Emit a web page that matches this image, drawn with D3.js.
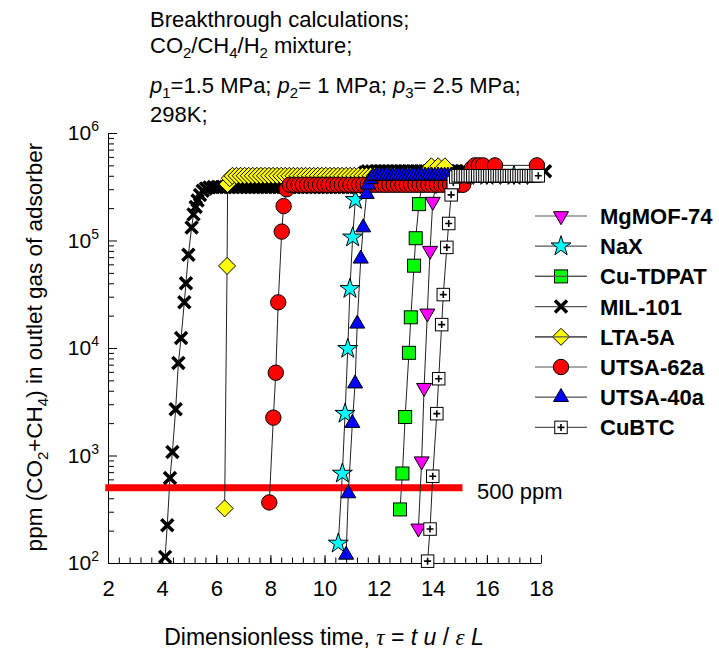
<!DOCTYPE html>
<html>
<head>
<meta charset="utf-8">
<script src="https://cdn.jsdelivr.net/npm/d3@7"></script>
<style>
  body { margin: 0; background: #fff; }
  svg { font-family: "Liberation Sans", Arial, sans-serif; }
</style>
</head>
<body>
<svg id="chart" width="719" height="650"></svg>
<script>
"use strict";

// axis setup
var xTicks = [2, 4, 6, 8, 10, 12, 14, 16, 18];
var yDecades = [2, 3, 4, 5, 6];
var thresholdPpm = 500;
var thresholdSpan = [1.9, 15.1];
var thresholdLabel = "500 ppm";

// [tau, ppm of CO2+CH4 in outlet gas]
var mgmof74 = [
    [13.47, 210], [13.59, 885], [13.68, 4270], [13.80, 21000], [13.90, 80400], [14.00, 230000],
    [14.12, 330000], [14.30, 380000], [14.60, 400000], [15.00, 400000], [15.50, 400000],
    [16.00, 400000], [16.50, 400000], [17.00, 400000], [17.50, 400000]
];
var nax = [
    [10.51, 152], [10.66, 680], [10.76, 2450], [10.86, 9840], [10.94, 35500], [11.04, 107000],
    [11.14, 239000], [11.25, 330000], [11.60, 350000], [12.20, 350000], [12.80, 350000],
    [13.40, 350000], [14.00, 350000], [14.60, 380000], [15.20, 400000], [16.00, 400000], [17.00, 400000]
];
var cuTdpat = [
    [12.79, 315], [12.88, 680], [12.98, 2280], [13.12, 9020], [13.19, 19300], [13.31, 58300],
    [13.37, 105000], [13.49, 218000], [13.60, 330000], [13.90, 370000], [14.40, 400000],
    [15.00, 400000], [15.60, 400000], [16.20, 400000], [16.80, 400000], [17.40, 400000]
];
var mil101 = [
    [4.11, 114], [4.19, 225], [4.29, 617], [4.38, 1080], [4.50, 2690], [4.60, 7240], [4.70, 12400],
    [4.82, 26600], [4.88, 40000], [4.97, 73800], [5.09, 132000], [5.16, 175000], [5.24, 205000],
    [5.31, 235000], [5.40, 265000], [5.50, 290000], [5.62, 305000], [5.75, 312000],
    [5.90, 315000], [6.05, 315000], [6.20, 315000], [6.35, 315000], [6.50, 315000], [6.65, 315000],
    [6.80, 315000], [6.95, 315000], [7.10, 315000], [7.25, 315000], [7.40, 315000], [7.55, 315000],
    [7.70, 315000], [7.85, 315000], [8.00, 315000], [8.15, 315000], [8.30, 315000], [8.45, 315000],
    [8.60, 315000], [8.75, 315000], [8.90, 315000], [9.05, 315000], [9.20, 315000], [9.35, 315000],
    [9.50, 315000], [9.65, 315000], [9.80, 315000], [9.95, 315000], [10.10, 315000], [10.25, 315000],
    [10.40, 315000], [10.55, 315000], [10.70, 315000], [10.85, 315000], [11.00, 315000], [11.15, 315000],
    [11.30, 315000], [11.40, 380000], [11.50, 430000],
    [11.60, 440000], [11.75, 440000], [11.90, 440000], [12.05, 440000], [12.20, 440000], [12.35, 440000],
    [12.50, 440000], [12.65, 440000], [12.80, 440000], [12.95, 440000], [13.10, 440000], [13.25, 440000],
    [13.40, 440000], [13.55, 440000], [13.70, 440000], [13.85, 440000], [14.00, 440000], [14.15, 440000],
    [14.30, 440000], [14.45, 440000], [14.60, 440000], [14.75, 440000], [14.90, 440000], [15.05, 440000],
    [15.20, 440000], [15.60, 440000], [18.15, 440000]
];
var lta5a = [
    [6.31, 322], [6.40, 58000], [6.42, 335000], [6.50, 380000], [6.60, 400000],
    [6.75, 400000], [6.90, 400000], [7.05, 400000], [7.20, 400000], [7.35, 400000], [7.50, 400000],
    [7.65, 400000], [7.80, 400000], [7.95, 400000], [8.10, 400000], [8.25, 400000], [8.40, 400000],
    [8.55, 400000], [8.70, 400000], [8.85, 400000], [9.00, 400000], [9.15, 400000], [9.30, 400000],
    [9.45, 400000], [9.60, 400000], [9.75, 400000], [9.90, 400000], [10.05, 400000], [10.20, 400000],
    [10.35, 400000], [10.50, 400000], [10.65, 400000], [10.80, 400000], [10.95, 400000], [11.10, 400000],
    [11.25, 400000], [11.40, 400000], [11.55, 400000], [11.70, 400000], [11.85, 400000], [12.00, 400000],
    [12.15, 400000], [12.30, 400000], [12.45, 400000], [12.60, 400000], [12.75, 400000], [12.90, 400000],
    [13.05, 400000], [13.20, 400000], [13.35, 400000], [13.50, 400000], [13.65, 400000],
    [13.80, 450000], [13.95, 490000], [14.20, 490000], [14.45, 490000]
];
var utsa62a = [
    [7.96, 366], [8.11, 2250], [8.20, 5890], [8.29, 26600], [8.42, 121000], [8.49, 209000],
    [8.60, 300000], [8.72, 330000],
    [8.88, 330000], [9.04, 330000], [9.20, 330000], [9.36, 330000], [9.52, 330000], [9.68, 330000],
    [9.84, 330000], [10.00, 330000], [10.16, 330000], [10.32, 330000], [10.48, 330000], [10.64, 330000],
    [10.80, 330000], [10.96, 330000], [11.12, 330000], [11.28, 330000], [11.44, 330000], [11.60, 330000],
    [11.76, 330000], [11.92, 330000], [12.08, 330000], [12.24, 330000], [12.40, 330000], [12.56, 330000],
    [12.72, 330000], [12.88, 330000], [13.04, 330000], [13.20, 330000], [13.36, 330000], [13.52, 330000],
    [13.68, 330000], [13.84, 330000], [14.00, 330000], [14.16, 330000], [14.32, 330000], [14.48, 330000],
    [14.64, 330000], [14.80, 330000], [14.96, 330000], [15.12, 330000],
    [15.30, 400000], [15.45, 470000], [15.56, 500000], [15.70, 500000], [15.86, 500000],
    [16.30, 500000], [17.85, 500000]
];
var utsa40a = [
    [10.80, 119], [10.88, 443], [11.03, 2000], [11.13, 4660], [11.21, 16800], [11.34, 67600],
    [11.43, 132000], [11.56, 270000], [11.62, 330000], [11.70, 370000], [11.80, 395000],
    [11.92, 400000], [12.04, 400000], [12.16, 400000], [12.28, 400000], [12.40, 400000], [12.52, 400000],
    [12.64, 400000], [12.76, 400000], [12.88, 400000], [13.00, 400000], [13.12, 400000], [13.24, 400000],
    [13.36, 400000], [13.48, 400000], [13.60, 400000], [13.72, 400000], [13.84, 400000], [13.96, 400000],
    [14.08, 400000], [14.20, 400000], [14.32, 400000], [14.44, 400000], [14.56, 400000], [14.68, 400000]
];
var cubtc = [
    [13.81, 104], [13.90, 207], [14.00, 641], [14.15, 2450], [14.22, 5180], [14.33, 16500],
    [14.39, 31400], [14.52, 86300], [14.59, 144000], [14.68, 266000], [14.76, 346000], [14.85, 390000],
    [14.94, 400000], [15.03, 400000], [15.12, 400000], [15.21, 400000], [15.30, 400000], [15.39, 400000],
    [15.48, 400000], [15.57, 400000], [15.66, 400000], [15.75, 400000], [15.84, 400000], [15.93, 400000],
    [16.02, 400000], [16.11, 400000], [16.20, 400000], [16.29, 400000], [16.38, 400000], [16.47, 400000],
    [16.56, 400000], [16.65, 400000], [16.74, 400000], [16.83, 400000], [16.92, 400000], [17.01, 400000],
    [17.10, 400000], [17.19, 400000], [17.28, 400000], [17.37, 400000], [17.46, 400000], [17.55, 400000],
    [17.64, 400000], [17.73, 400000], [17.82, 400000], [17.90, 400000]
];

// legend order == drawing order (last one ends up on top)
var series = [
    { name: "MgMOF-74", data: mgmof74, symbol: "triDown", fill: "#ff00ff" },
    { name: "NaX", data: nax, symbol: "star", fill: "#00ffff" },
    { name: "Cu-TDPAT", data: cuTdpat, symbol: "square", fill: "#00ff00" },
    { name: "MIL-101", data: mil101, symbol: "cross", fill: "#000" },
    { name: "LTA-5A", data: lta5a, symbol: "diamond", fill: "#ffff00" },
    { name: "UTSA-62a", data: utsa62a, symbol: "circle", fill: "#ff0000" },
    { name: "UTSA-40a", data: utsa40a, symbol: "triUp", fill: "#0000ff" },
    { name: "CuBTC", data: cubtc, symbol: "boxPlus", fill: "#fff" }
];

var svg = d3.select("#chart");
var x = d3.scaleLinear().domain([2, 18]).range([108, 541]);
var y = d3.scaleLog().domain([100, 1e6]).range([563, 133]);

function drawMarker(sel, s) {
    switch (s.symbol) {
    case "circle":
        sel.append("circle").attr("r", 7.7).attr("fill", s.fill).attr("stroke", "#000");
        break;
    case "square":
        sel.append("rect").attr("x", -6.5).attr("y", -6.5).attr("width", 13).attr("height", 13)
            .attr("fill", s.fill).attr("stroke", "#000");
        break;
    case "diamond":
        sel.append("path").attr("d", "M0,-8.5L8.5,0L0,8.5L-8.5,0Z").attr("fill", s.fill).attr("stroke", "#000");
        break;
    case "triUp":
        sel.append("path").attr("d", "M0,-8.7L7.5,4.3L-7.5,4.3Z").attr("fill", s.fill).attr("stroke", "#000");
        break;
    case "triDown":
        sel.append("path").attr("d", "M0,8.7L7.5,-4.3L-7.5,-4.3Z").attr("fill", s.fill).attr("stroke", "#000");
        break;
    case "star":
        sel.append("path").attr("d", d3.symbol(d3.symbolStar, 124)()).attr("fill", s.fill).attr("stroke", "#000");
        break;
    case "cross":
        sel.append("path").attr("d", "M-6,-6L6,6M-6,6L6,-6").attr("stroke", "#000").attr("stroke-width", 3.5);
        break;
    case "boxPlus":
        sel.append("rect").attr("x", -6.25).attr("y", -6.25).attr("width", 12.5).attr("height", 12.5)
            .attr("fill", "#fff").attr("stroke", "#000");
        sel.append("path").attr("d", "M-3.5,0H3.5M0,-3.5V3.5").attr("stroke", "#000").attr("stroke-width", 1.6);
        break;
    default: break;
    }
}

// axes: inward ticks, bottom + left only
var xAxisG = svg.append("g").attr("transform", "translate(0,563)");
xAxisG.call(d3.axisBottom(x).tickValues(d3.range(2, 18.01, 0.4)).tickSizeInner(-5.5).tickSizeOuter(0).tickFormat(""));
xAxisG.append("g").call(d3.axisBottom(x).tickValues(xTicks).tickSizeInner(-8).tickSizeOuter(0).tickPadding(17))
    .call(function (g) { g.select(".domain").remove(); });
xAxisG.selectAll("text").attr("font-size", 22).attr("fill", "#000").attr("font-family", "Liberation Sans, Arial, sans-serif");

var yMinor = [];
yDecades.forEach(function (e) {
    if (e < 6) {
        for (var k = 2; k <= 9; k++) { yMinor.push(k * Math.pow(10, e)); }
    }
});
var yAxisG = svg.append("g").attr("transform", "translate(108,0)");
yAxisG.call(d3.axisLeft(y).tickValues(yMinor).tickSizeInner(-6).tickSizeOuter(0).tickFormat(""));
yAxisG.append("g").call(d3.axisLeft(y).tickValues(yDecades.map(function (e) { return Math.pow(10, e); }))
    .tickSizeInner(-9).tickSizeOuter(0).tickFormat(""))
    .call(function (g) { g.select(".domain").remove(); });
svg.selectAll(".domain, .tick line").attr("stroke", "#000");

var yLab = svg.append("g").attr("font-size", 21).attr("fill", "#000");
yDecades.forEach(function (e) {
    var t = yLab.append("text").attr("x", 99).attr("y", y(Math.pow(10, e)) + 7).attr("text-anchor", "end");
    t.append("tspan").text("10");
    t.append("tspan").attr("font-size", 14).attr("dy", -9).text(e);
});

// 500 ppm threshold
svg.append("line")
    .attr("x1", x(thresholdSpan[0])).attr("x2", x(thresholdSpan[1]))
    .attr("y1", y(thresholdPpm)).attr("y2", y(thresholdPpm))
    .attr("stroke", "#ff0000").attr("stroke-width", 7);
svg.append("text").attr("x", 477).attr("y", 499).attr("font-size", 22).text(thresholdLabel);

// curves
var line = d3.line().x(function (d) { return x(d[0]); }).y(function (d) { return y(d[1]); });
series.forEach(function (s) {
    var g = svg.append("g").attr("class", "series");
    g.append("path").datum(s.data).attr("d", line)
        .attr("fill", "none").attr("stroke", "#222").attr("stroke-width", 1);
    g.selectAll("g.mk").data(s.data).join("g").attr("class", "mk")
        .attr("transform", function (d) { return "translate(" + x(d[0]) + "," + y(d[1]) + ")"; })
        .each(function () { drawMarker(d3.select(this), s); });
});

// legend
var legend = svg.append("g");
series.forEach(function (s, i) {
    var ly = 216 + i * 30.2;
    var row = legend.append("g").attr("transform", "translate(0," + ly + ")");
    row.append("line").attr("x1", 535).attr("x2", 587).attr("stroke", "#555").attr("stroke-width", 1.2);
    drawMarker(row.append("g").attr("transform", "translate(561,0)"), s);
    if (s.symbol === "square" || s.symbol === "diamond") {
        row.append("line").attr("x1", 535).attr("x2", 587).attr("stroke", "#555").attr("stroke-width", 1.2);
    }
    row.append("text").attr("x", 600).attr("y", 8).attr("font-size", 22).attr("font-weight", "bold").text(s.name);
});

// annotation block
var note = svg.append("g").attr("font-size", 22).attr("fill", "#000");
note.append("text").attr("x", 150).attr("y", 27).text("Breakthrough calculations;");
var l2 = note.append("text").attr("x", 150).attr("y", 53);
[["CO", 0], ["2", 1], ["/CH", 0], ["4", 1], ["/H", 0], ["2", 1], [" mixture;", 0]].forEach(function (p, i, arr) {
    var ts = l2.append("tspan").text(p[0]);
    if (p[1]) { ts.attr("font-size", 15).attr("dy", 5); }
    else if (i > 0 && arr[i - 1][1]) { ts.attr("dy", -5); }
});
var l3 = note.append("text").attr("x", 150).attr("y", 93);
[["p", 2], ["1", 1], ["=1.5 MPa; ", 0], ["p", 2], ["2", 1], ["= 1 MPa; ", 0], ["p", 2], ["3", 1], ["= 2.5 MPa;", 0]]
    .forEach(function (p, i, arr) {
        var ts = l3.append("tspan").text(p[0]);
        if (p[1] === 1) { ts.attr("font-size", 15).attr("dy", 5); }
        else {
            if (p[1] === 2) { ts.attr("font-style", "italic"); }
            if (i > 0 && arr[i - 1][1] === 1) { ts.attr("dy", -5); }
        }
    });
note.append("text").attr("x", 150).attr("y", 122).text("298K;");

// axis titles
var yTitle = svg.append("text").attr("font-size", 22.5).attr("text-anchor", "middle")
    .attr("transform", "translate(42,347) rotate(-90)");
yTitle.append("tspan").text("ppm (CO");
yTitle.append("tspan").attr("font-size", 15).attr("dy", 6).text("2");
yTitle.append("tspan").attr("dy", -6).text("+CH");
yTitle.append("tspan").attr("font-size", 15).attr("dy", 6).text("4");
yTitle.append("tspan").attr("dy", -6).text(") in outlet gas of adsorber");

var xTitle = svg.append("text").attr("font-size", 23).attr("text-anchor", "middle").attr("x", 324).attr("y", 645);
xTitle.append("tspan").text("Dimensionless time, ");
xTitle.append("tspan").attr("font-family", "Liberation Serif, serif").attr("font-style", "italic").text("\u03c4");
xTitle.append("tspan").text(" = ");
xTitle.append("tspan").attr("font-style", "italic").text("t u");
xTitle.append("tspan").text(" / ");
xTitle.append("tspan").attr("font-family", "Liberation Serif, serif").attr("font-style", "italic").text("\u03b5");
xTitle.append("tspan").text(" ");
xTitle.append("tspan").attr("font-style", "italic").text("L");
</script>
</body>
</html>
